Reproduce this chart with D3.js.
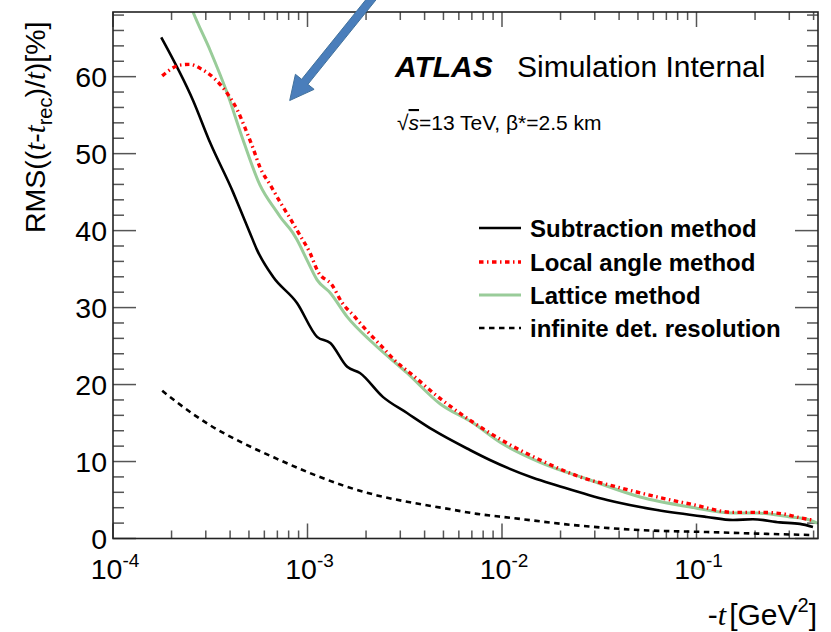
<!DOCTYPE html>
<html>
<head>
<meta charset="utf-8">
<script src="https://cdn.jsdelivr.net/npm/d3@7"></script>
<style>
  body { margin: 0; background: #fff; }
  svg { display: block; font-family: "Liberation Sans", Arial, sans-serif; }
</style>
</head>
<body>
<svg id="chart" width="831" height="632"></svg>
<script>
// ---- data (t in GeV^2, RMS in %) ----
const subtractionT = [1.77e-4, 2.58e-4, 3.16e-4, 4.14e-4, 4.50e-4, 5.06e-4, 5.50e-4, 6.65e-4, 8.83e-4, 1.12e-3, 1.31e-3, 1.60e-3, 1.86e-3, 2.44e-3, 3.25e-3, 4.42e-3, 6.84e-3, 8.67e-3, 1.44e-2, 1.92e-2, 3.47e-2, 6.27e-2, 0.113, 0.154, 0.195, 0.268, 0.340, 0.397];
const subtractionV = [65.1, 56.9, 51.4, 45.0, 42.8, 39.7, 37.5, 34.0, 30.6, 26.2, 25.4, 22.3, 21.5, 18.4, 16.3, 14.1, 11.5, 10.2, 7.9, 6.9, 5.0, 3.7, 2.8, 2.4, 2.5, 2.1, 1.9, 1.5];

const localAngleT = [1.79e-4, 2.21e-4, 2.49e-4, 2.80e-4, 3.34e-4, 3.90e-4, 4.39e-4, 4.78e-4, 5.25e-4, 5.70e-4, 6.41e-4, 7.23e-4, 8.13e-4, 9.14e-4, 1.03e-3, 1.13e-3, 1.34e-3, 1.50e-3, 1.75e-3, 2.05e-3, 2.42e-3, 2.82e-3, 3.37e-3, 4.80e-3, 7.10e-3, 1.06e-2, 1.57e-2, 2.52e-2, 3.90e-2, 6.27e-2, 9.60e-2, 0.154, 0.212, 0.279, 0.340, 0.393];
const localAngleV = [60.1, 61.5, 61.6, 61.1, 59.7, 57.7, 55.5, 53.3, 50.7, 48.2, 46.0, 43.7, 41.6, 39.4, 37.1, 34.7, 32.9, 30.7, 28.8, 26.8, 24.9, 23.1, 21.5, 18.2, 15.1, 12.4, 10.2, 8.0, 6.7, 5.4, 4.4, 3.4, 3.4, 3.2, 2.7, 2.4];

const latticeT = [2.40e-4, 2.58e-4, 3.16e-4, 3.86e-4, 4.66e-4, 5.70e-4, 6.97e-4, 7.23e-4, 8.41e-4, 8.83e-4, 9.93e-4, 1.12e-3, 1.31e-3, 1.60e-3, 2.17e-3, 3.25e-3, 4.80e-3, 7.10e-3, 9.77e-3, 1.57e-2, 2.83e-2, 5.13e-2, 9.27e-2, 0.154, 0.205, 0.303, 0.370, 0.417];
const latticeV = [70.5, 68.4, 63.4, 57.9, 51.8, 45.9, 42.4, 41.8, 39.7, 38.8, 36.2, 33.6, 31.9, 28.8, 25.4, 21.5, 17.5, 15.0, 12.5, 9.9, 7.6, 5.4, 4.1, 3.3, 3.3, 2.8, 2.5, 2.0];

const infiniteT = [1.79e-4, 2.13e-4, 3.16e-4, 4.66e-4, 6.97e-4, 1.03e-3, 1.52e-3, 2.28e-3, 3.37e-3, 4.98e-3, 7.43e-3, 1.10e-2, 2.32e-2, 5.13e-2, 0.113, 0.247, 0.397];
const infiniteV = [19.2, 17.7, 14.7, 12.4, 10.35, 8.5, 6.9, 5.6, 4.7, 3.96, 3.2, 2.7, 1.75, 1.1, 0.84, 0.58, 0.45];

const seriesNames = ["Subtraction method", "Local angle method", "Lattice method", "infinite det. resolution"];
const yTickValues = [0, 10, 20, 30, 40, 50, 60];
const xDecades = [-4, -3, -2, -1];

// ---- layout ----
const svg = d3.select("#chart");
const L = 113, R = 818, T = 12, B = 538.5;
const x = d3.scaleLog().domain([1e-4, 0.4214]).range([L, R]);
const y = d3.scaleLinear().domain([0, 68.4]).range([B, T]);

svg.append("defs").append("clipPath").attr("id", "clip")
  .append("rect").attr("x", L).attr("y", T).attr("width", R - L).attr("height", B - T);

// ---- ticks ----
const tickCol = "#555";
const g = svg.append("g");
const yMinor = d3.range(0, 68.4, 2);
yMinor.forEach(v => {
  const major = v % 10 === 0;
  const len = major ? 23 : 11;
  g.append("line").attr("x1", L).attr("x2", L + len).attr("y1", y(v)).attr("y2", y(v))
    .attr("stroke", tickCol).attr("stroke-width", 1.5);
  g.append("line").attr("x1", R - len).attr("x2", R).attr("y1", y(v)).attr("y2", y(v))
    .attr("stroke", tickCol).attr("stroke-width", 1.5);
});
const xTicks = [];
xDecades.forEach(d => { for (let m = 1; m <= 9; m++) { const v = m * Math.pow(10, d); if (v <= 0.4214) xTicks.push({v, major: m === 1}); } });
xTicks.forEach(t => {
  const len = t.major ? 15 : 8;
  g.append("line").attr("x1", x(t.v)).attr("x2", x(t.v)).attr("y1", B).attr("y2", B - len)
    .attr("stroke", tickCol).attr("stroke-width", 1.5);
  g.append("line").attr("x1", x(t.v)).attr("x2", x(t.v)).attr("y1", T).attr("y2", T + len)
    .attr("stroke", tickCol).attr("stroke-width", 1.5);
});

// ---- y tick labels ----
yTickValues.forEach(v => {
  svg.append("text").attr("x", 107).attr("y", y(v)).attr("dy", "0.36em")
    .attr("text-anchor", "end").attr("font-size", 28.5).attr("fill", "#000").text(v);
});
// ---- x tick labels ----
xDecades.forEach(d => {
  const t = svg.append("text").attr("x", x(Math.pow(10, d)) + 2).attr("y", 579)
    .attr("text-anchor", "middle").attr("font-size", 28.5).attr("fill", "#000");
  t.append("tspan").text("10");
  t.append("tspan").attr("font-size", 19).attr("dy", -12).text(String(d));
});

// ---- lines ----
const line = d3.line().x(d => x(d[0])).y(d => y(d[1])).curve(d3.curveMonotoneX);
const plot = svg.append("g").attr("clip-path", "url(#clip)");
const zip = (a, b) => a.map((v, i) => [v, b[i]]);
const styles = [
  {data: zip(infiniteT, infiniteV), stroke: "#000", width: 2.6, dash: "5.5 4.5"},
  {data: zip(latticeT, latticeV), stroke: "#99cc99", width: 3, dash: null},
  {data: zip(subtractionT, subtractionV), stroke: "#000", width: 2.6, dash: null},
  {data: zip(localAngleT, localAngleV), stroke: "#ff0000", width: 3.4, dash: "4.5 3.5 1.5 3.5"},
];
styles.forEach(s => {
  plot.append("path").attr("d", line(s.data)).attr("fill", "none")
    .attr("stroke", s.stroke).attr("stroke-width", s.width)
    .attr("stroke-dasharray", s.dash).attr("stroke-linejoin", "round");
});

// ---- frame ----
svg.append("rect").attr("x", L).attr("y", T).attr("width", R - L).attr("height", B - T)
  .attr("fill", "none").attr("stroke", "#222").attr("stroke-width", 1.6);

// ---- axis titles ----
const yl = svg.append("text").attr("transform", "translate(45,233) rotate(-90)")
  .attr("font-size", 28.5).attr("fill", "#000");
yl.append("tspan").text("RMS((");
yl.append("tspan").attr("font-family", "Liberation Serif").attr("font-style", "italic").text("t");
yl.append("tspan").text("-");
yl.append("tspan").attr("font-family", "Liberation Serif").attr("font-style", "italic").text("t");
yl.append("tspan").attr("font-size", 20).attr("dy", 7).text("rec");
yl.append("tspan").attr("dy", -7).text(")/");
yl.append("tspan").attr("font-family", "Liberation Serif").attr("font-style", "italic").text("t");
yl.append("tspan").text(")[%]");

const xl = svg.append("text").attr("x", 817).attr("y", 625).attr("text-anchor", "end")
  .attr("font-size", 30).attr("fill", "#000");
xl.append("tspan").text("-");
xl.append("tspan").attr("font-family", "Liberation Serif").attr("font-style", "italic").text("t");
xl.append("tspan").attr("dx", 3).text("[GeV");
xl.append("tspan").attr("font-size", 20).attr("dy", -13).text("2");
xl.append("tspan").attr("dy", 13).text("]");

// ---- ATLAS label ----
svg.append("text").attr("x", 395).attr("y", 77).attr("font-size", 30)
  .attr("font-weight", "bold").attr("font-style", "italic").attr("fill", "#000").text("ATLAS");
svg.append("text").attr("x", 517).attr("y", 77).attr("font-size", 30).attr("fill", "#000")
  .text("Simulation Internal");
const sub = svg.append("text").attr("x", 397).attr("y", 130).attr("font-size", 21).attr("fill", "#000");
sub.append("tspan").text("√");
sub.append("tspan").attr("font-style", "italic").attr("text-decoration", "overline").text("s");
sub.append("tspan").text("=13 TeV, β*=2.5 km");

// ---- legend ----
const legY = [228, 262, 295, 328];
const legStyles = [styles[2], styles[3], styles[1], styles[0]];
seriesNames.forEach((name, i) => {
  const s = legStyles[i];
  svg.append("line").attr("x1", 479).attr("x2", 521).attr("y1", legY[i]).attr("y2", legY[i])
    .attr("stroke", s.stroke).attr("stroke-width", s.width).attr("stroke-dasharray", s.dash);
  svg.append("text").attr("x", 530).attr("y", legY[i]).attr("dy", "0.36em")
    .attr("font-size", 24).attr("font-weight", "bold").attr("fill", "#000").text(name);
});

// ---- blue annotation arrow (data coordinates) ----
const arrowTail = [2.2e-3, 70.5], arrowTip = [8.1e-4, 56.9];
const tx = x(arrowTail[0]), ty = y(arrowTail[1]), hx = x(arrowTip[0]), hy = y(arrowTip[1]);
const dx = hx - tx, dy = hy - ty, len = Math.hypot(dx, dy);
const ux = dx / len, uy = dy / len, px = -uy, py = ux;
const hw = 4, headL = 24, headW = 12;
const bx = hx - ux * headL, by = hy - uy * headL;
const pts = [
  [tx + px * hw, ty + py * hw], [bx + px * hw, by + py * hw], [bx + px * headW, by + py * headW],
  [hx, hy], [bx - px * headW, by - py * headW], [bx - px * hw, by - py * hw], [tx - px * hw, ty - py * hw]
];
svg.append("polygon").attr("points", pts.map(p => p.join(",")).join(" "))
  .attr("fill", "#4a7ebb").attr("stroke", "#41719c").attr("stroke-width", 1);
</script>
</body>
</html>
